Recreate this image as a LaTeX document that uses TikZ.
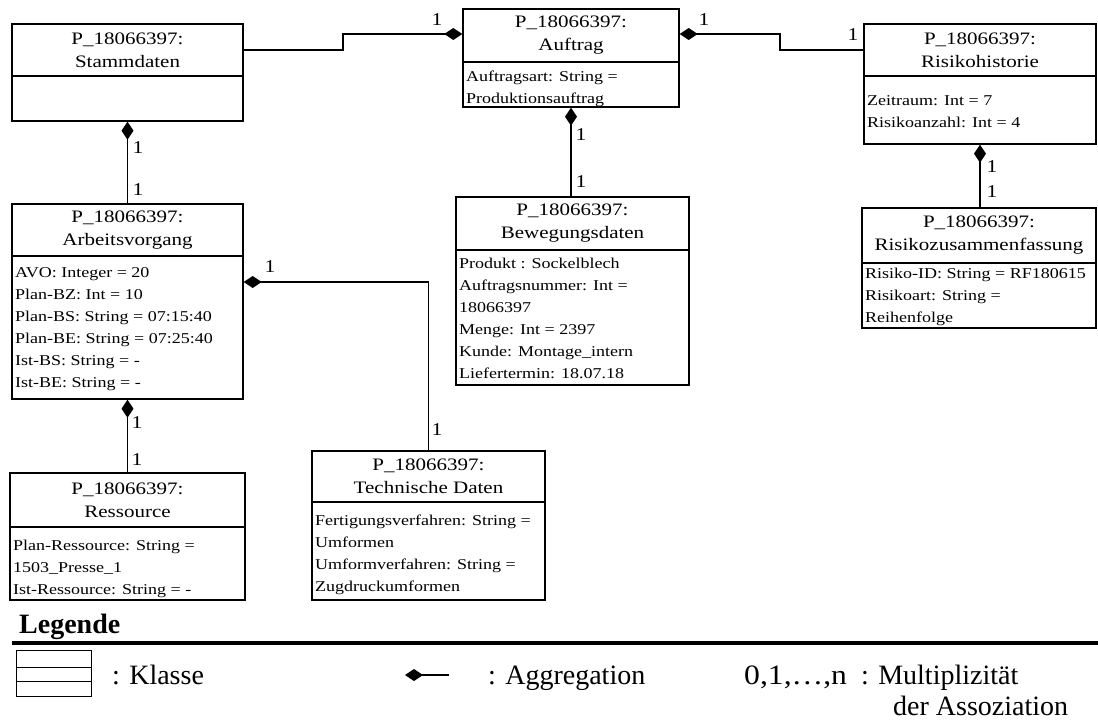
\documentclass[tikz,border=0pt]{standalone}
\usepackage{fontspec}
\usepackage{graphicx}
\setmainfont{Liberation Serif}
\newfontfamily\dgmfont[FakeStretch=1.2]{Liberation Serif}
\usetikzlibrary{arrows.meta,fit}

\tikzset{
  box/.style={draw, line width=1.4pt, inner sep=0pt},
  sepline/.style={line width=1.4pt},
  conn/.style={line width=1.4pt},
  agg/.style={conn, {Diamond[length=18pt,width=12pt]}-},
  headtxt/.style={align=center, inner sep=0pt, font=\dgmfont\fontsize{17.5}{23}\selectfont},
  attrtxt/.style={align=left, anchor=north west, inner sep=0pt, font=\dgmfont\fontsize{15}{22}\selectfont},
  mult/.style={inner sep=0pt, font=\dgmfont\fontsize{18}{20}\selectfont},
  legtxt/.style={inner sep=0pt, anchor=base west, font=\fontsize{28}{30}\selectfont},
}

% name, left, top, right, divider, bottom, header, attributes, first baseline
\newcommand\umlclass[9]{%
  \node[box, fit={(#2,#3)(#4,#6)}] (#1) {};
  \draw[sepline] (#1.west |- 0,#5) -- (#1.east |- 0,#5);
  \node[headtxt] (#1-head) at ({(#2+#4)/2},{(#3+#5)/2}) {#7};
  \node[attrtxt] (#1-attr) at ({#2+3},{#9-14}) {\rule{0pt}{14pt}#8};
}

\begin{document}
\begin{tikzpicture}[x=1pt,y=-1pt]
\useasboundingbox (0,0) rectangle (1098,720);

% classes
\umlclass{stamm}{12}{24}{243}{76}{121}{P\_18066397:\\Stammdaten}{}{100}
\umlclass{auftrag}{463}{9}{679}{62}{107}{P\_18066397:\\Auftrag}
  {Auftragsart: String =\\Produktionsauftrag}{81}
\umlclass{risk}{864}{24}{1096}{76}{144}{P\_18066397:\\Risikohistorie}
  {Zeitraum: Int = 7\\Risikoanzahl: Int = 4}{105}
\umlclass{rzus}{862}{208}{1096}{263}{328}{P\_18066397:\\Risikozusammenfassung}
  {Risiko-ID: String = RF180615\\Risikoart: String =\\Reihenfolge}{278}
\umlclass{arbeit}{12}{204}{243}{256}{399}{P\_18066397:\\Arbeitsvorgang}
  {AVO: Integer = 20\\Plan-BZ: Int = 10\\Plan-BS: String = 07:15:40\\Plan-BE: String = 07:25:40\\Ist-BS: String = -\\Ist-BE: String = -}{277}
\umlclass{beweg}{456}{197}{689}{250}{385}{P\_18066397:\\Bewegungsdaten}
  {Produkt : Sockelblech\\Auftragsnummer: Int =\\18066397\\Menge: Int = 2397\\Kunde: Montage\_intern\\Liefertermin: 18.07.18}{268}
\umlclass{ress}{10}{473}{245}{527}{600}{P\_18066397:\\Ressource}
  {Plan-Ressource: String =\\1503\_Presse\_1\\Ist-Ressource: String = -}{550}
\umlclass{tech}{312}{451}{545}{502}{600}{P\_18066397:\\Technische Daten}
  {Fertigungsverfahren: String =\\Umformen\\Umformverfahren: String =\\Zugdruckumformen}{525}

% aggregations
\draw[agg] (auftrag.west |- 0,34) -- (343,34) -- (343,50) -- (stamm.east |- 0,50);
\draw[agg] (auftrag.east |- 0,34) -- (780,34) -- (780,50) -- (risk.west |- 0,50);
\draw[agg] (stamm.south) -- (stamm.south |- arbeit.north);
\draw[agg] (auftrag.south) -- (auftrag.south |- beweg.north);
\draw[agg] (risk.south) -- (risk.south |- rzus.north);
\draw[agg] (arbeit.east |- 0,282) -| (tech.north);
\draw[agg] (arbeit.south) -- (arbeit.south |- ress.north);

% multiplicities
\node[mult] (m1) at (437,20) {1};
\node[mult] (m2) at (704,20) {1};
\node[mult] (m3) at (853,35) {1};
\node[mult] (m4) at (138,148) {1};
\node[mult] (m5) at (138,190) {1};
\node[mult] (m6) at (581,135) {1};
\node[mult] (m7) at (581,182) {1};
\node[mult] (m8) at (992,167) {1};
\node[mult] (m9) at (992,192) {1};
\node[mult] (m10) at (270,267) {1};
\node[mult] (m11) at (437,430) {1};
\node[mult] (m12) at (137,423) {1};
\node[mult] (m13) at (137,460) {1};

% legend
\node[legtxt, font=\bfseries\fontsize{28}{30}\selectfont] (legtitle) at (19,633) {Legende};
\draw[line width=4pt] (12,643) -- (1098,643);
\draw[line width=1pt] (16,650) rectangle (91,696);
\draw[line width=1pt] (16,667) -- (91,667) (16,681) -- (91,681);
\node[legtxt] (legclass) at (112,684) {: Klasse};
\coordinate (legagga) at (405,675);
\coordinate (legaggb) at (449,675);
\draw[agg] (legagga) -- (legaggb);
\node[legtxt] (legagg) at (488,684) {: Aggregation};
\node[legtxt] (legmultn) at (744,684) {\scalebox{1.13}[1]{0,1,…,n}};
\node[legtxt] (legmult) at (861,684) {: Multiplizität};
\node[legtxt] (legmult2) at (893,715) {der Assoziation};
\end{tikzpicture}
\end{document}
